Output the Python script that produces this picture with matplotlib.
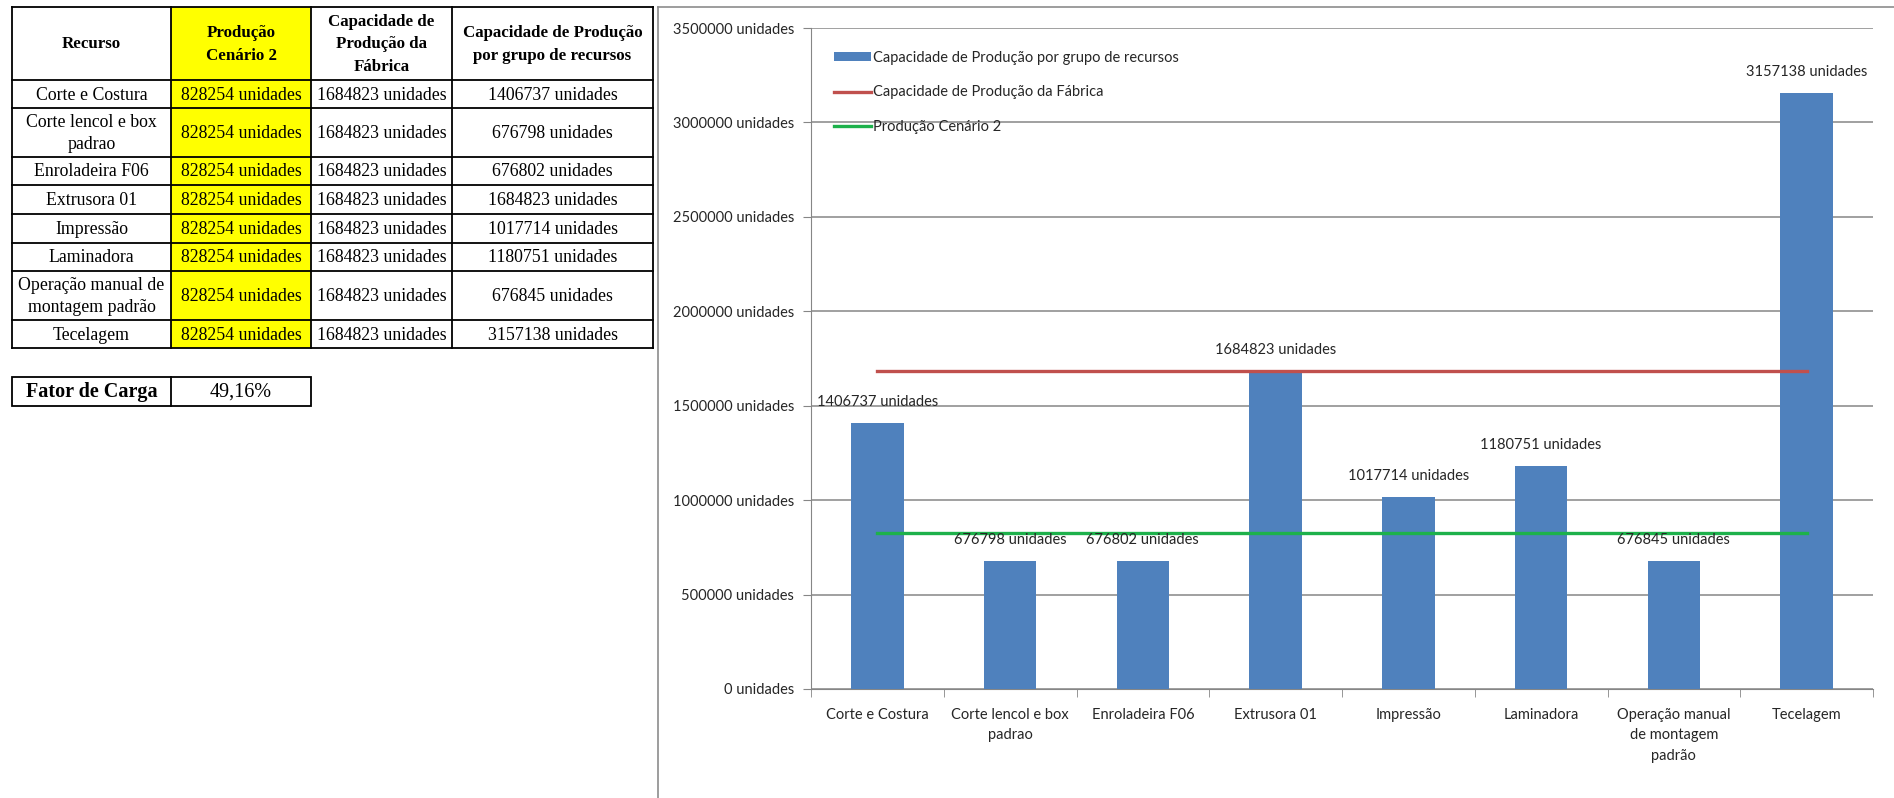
import matplotlib
matplotlib.use("Agg")
import matplotlib.pyplot as plt
from matplotlib.patches import Rectangle
import numpy as np

# ---------------- data ----------------
categories = ["Corte e Costura", "Corte lencol e box padrao", "Enroladeira F06",
              "Extrusora 01", "Impressão", "Laminadora",
              "Operação manual de montagem padrão", "Tecelagem"]
axis_labels = ["Corte e Costura", "Corte lencol e box\npadrao", "Enroladeira F06",
               "Extrusora 01", "Impressão", "Laminadora",
               "Operação manual\nde montagem\npadrão", "Tecelagem"]
table_labels = ["Corte e Costura", "Corte lencol e box\npadrao", "Enroladeira F06",
                "Extrusora 01", "Impressão", "Laminadora",
                "Operação manual de\nmontagem padrão", "Tecelagem"]
cap_grupo = [1406737, 676798, 676802, 1684823, 1017714, 1180751, 676845, 3157138]
cap_fabrica = [1684823] * 8
producao_cen2 = [828254] * 8
fator_carga = "49,16%"
headers = ["Recurso", "Produção\nCenário 2", "Capacidade de\nProdução da\nFábrica",
           "Capacidade de Produção\npor grupo de recursos"]
yticks = [0, 500000, 1000000, 1500000, 2000000, 2500000, 3000000, 3500000]

BLUE = "#4F81BD"
RED = "#C0504D"
GREEN = "#1DB14B"
GRID = "#868686"
TXT = "#262626"
CHART_FONT = "Lato"
TABLE_FONT = "Liberation Serif"

W, H = 1894, 798
fig = plt.figure(figsize=(W / 100, H / 100), dpi=100)

# ---------------- chart ----------------
L, R, T, B = 811, 1873, 28, 689
ax = fig.add_axes([L / W, 1 - B / H, (R - L) / W, (B - T) / H])
x = np.arange(len(categories))
bars = ax.bar(x, cap_grupo, width=0.395, color=BLUE, zorder=3,
              label="Capacidade de Produção por grupo de recursos")
l1, = ax.plot(x, cap_fabrica, color=RED, lw=2.4, zorder=4,
              label="Capacidade de Produção da Fábrica")
l2, = ax.plot(x, producao_cen2, color=GREEN, lw=2.4, zorder=4,
              label="Produção Cenário 2")
ax.set_xlim(-0.5, len(categories) - 0.5)
ax.set_ylim(0, 3500000)
ax.set_yticks(yticks)
ax.set_yticklabels([f"{v} unidades" for v in yticks], fontfamily=CHART_FONT,
                   fontsize=10.5, color=TXT)
ax.set_xticks(x)
ax.set_xticklabels(axis_labels, fontfamily=CHART_FONT, fontsize=10.5,
                   color=TXT, linespacing=1.55)
ax.tick_params(axis="x", length=0, pad=14)
ax.set_xticks(np.arange(-0.5, len(categories)), minor=True)
ax.tick_params(axis="x", which="minor", length=6, color=GRID, direction="out")
ax.tick_params(axis="y", length=6, color=GRID, direction="out", pad=6)
ax.grid(axis="y", color=GRID, lw=1.1, zorder=0)
for s in ["top", "right"]:
    ax.spines[s].set_visible(False)
ax.spines["left"].set_color(GRID)
ax.spines["bottom"].set_color(GRID)
for xi, v in zip(x, cap_grupo):
    ax.annotate(f"{v} unidades", (xi, v), xytext=(0, 10), textcoords="offset points",
                ha="center", va="bottom", fontfamily=CHART_FONT, fontsize=10.5,
                color=TXT, zorder=5)
leg = ax.legend(handles=[bars, l1, l2], loc="upper left",
                bbox_to_anchor=((834 - L) / (R - L), 1 - (51 - T) / (B - T)),
                frameon=False, prop={"family": CHART_FONT, "size": 10.5},
                handlelength=2.55, handleheight=0.6, handletextpad=0.15,
                labelspacing=1.4, borderaxespad=0, borderpad=0)
for t in leg.get_texts():
    t.set_color(TXT)

# ---------------- overlay for table & frame ----------------
ov = fig.add_axes([0, 0, 1, 1], zorder=-1)
ov.set_xlim(0, W)
ov.set_ylim(H, 0)
ov.axis("off")

# chart frame (left & top)
ov.plot([658, 658], [7, H], color="#8c8c8c", lw=1.2)
ov.plot([658, W], [7, 7], color="#8c8c8c", lw=1.2)

cols = [12, 171, 311, 452, 653]
rows = [7, 80, 108, 157, 185, 214, 243, 271, 320, 348]
ov.add_patch(Rectangle((cols[1], rows[0]), cols[2] - cols[1], rows[-1] - rows[0],
                       facecolor="#FFFF00", edgecolor="none", zorder=1))
for y in rows:
    ov.plot([cols[0], cols[-1]], [y, y], color="black", lw=1.3, zorder=2)
for c in cols:
    ov.plot([c, c], [rows[0], rows[-1]], color="black", lw=1.3, zorder=2)

def cx(i):
    return (cols[i] + cols[i + 1]) / 2

def cy(j):
    return (rows[j] + rows[j + 1]) / 2

for i, h in enumerate(headers):
    ov.text(cx(i), cy(0) + 1, h, ha="center", va="center", fontfamily=TABLE_FONT,
            fontsize=12.2, fontweight="bold", linespacing=1.55, zorder=3)
for j in range(len(categories)):
    vals = [table_labels[j], f"{producao_cen2[j]} unidades",
            f"{cap_fabrica[j]} unidades", f"{cap_grupo[j]} unidades"]
    for i, v in enumerate(vals):
        ov.text(cx(i), cy(j + 1) + 1, v, ha="center", va="center", fontfamily=TABLE_FONT,
                fontsize=12.8, linespacing=1.45, zorder=3)

# Fator de Carga box
fy0, fy1 = 377, 406
ov.add_patch(Rectangle((cols[0], fy0), cols[2] - cols[0], fy1 - fy0, facecolor="none",
                       edgecolor="black", lw=1.3, zorder=2))
ov.plot([cols[1], cols[1]], [fy0, fy1], color="black", lw=1.3, zorder=2)
ov.text(cx(0), (fy0 + fy1) / 2 + 1, "Fator de Carga", ha="center", va="center",
        fontfamily=TABLE_FONT, fontsize=14.5, fontweight="bold")
ov.text(cx(1), (fy0 + fy1) / 2 + 1, fator_carga, ha="center", va="center",
        fontfamily=TABLE_FONT, fontsize=14.5)

fig.savefig("out.png", dpi=100)
